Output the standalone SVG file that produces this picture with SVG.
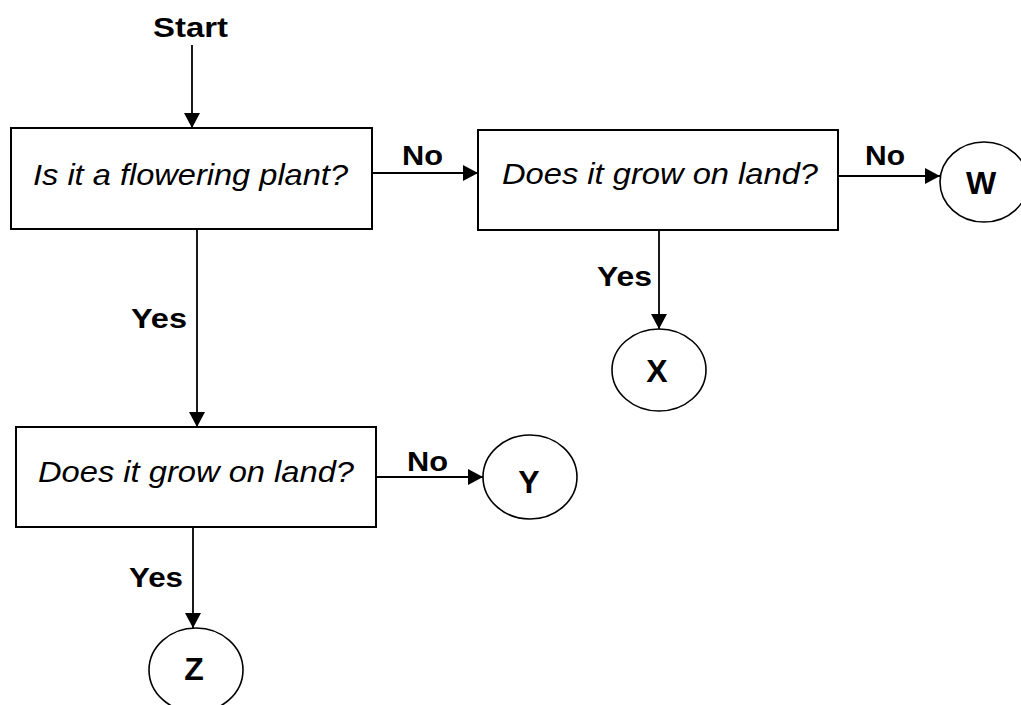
<svg xmlns="http://www.w3.org/2000/svg" width="1021" height="705" viewBox="0 0 1021 705">
<defs>
<marker id="ah" markerWidth="16" markerHeight="16" refX="15" refY="8" orient="auto" markerUnits="userSpaceOnUse">
<path d="M0,0 L15,8 L0,16 Z" fill="#000"/>
</marker>
<style>
.box{fill:#fff;stroke:#000;stroke-width:2}
.term{fill:#fff;stroke:#000;stroke-width:1.6}
.q{font-family:"Liberation Sans",Arial,sans-serif;font-style:italic;font-size:30px;fill:#000}
.lbl{font-family:"Liberation Sans",Arial,sans-serif;font-weight:bold;font-size:28px;fill:#000}
.big{font-family:"Liberation Sans",Arial,sans-serif;font-weight:bold;font-size:32px;fill:#000;text-anchor:middle}
.edge{stroke:#000;stroke-width:1.8;fill:none}
</style>
</defs>
<rect width="1021" height="705" fill="#fff"/>
<g id="connectors">
<line class="edge" x1="192" y1="45" x2="192" y2="128" marker-end="url(#ah)"/>
<line class="edge" x1="372" y1="173" x2="478" y2="173" marker-end="url(#ah)"/>
<line class="edge" x1="197" y1="229" x2="197" y2="427" marker-end="url(#ah)"/>
<line class="edge" x1="659" y1="230" x2="659" y2="329" marker-end="url(#ah)"/>
<line class="edge" x1="838" y1="176" x2="940" y2="176" marker-end="url(#ah)"/>
<line class="edge" x1="376" y1="477" x2="483" y2="477" marker-end="url(#ah)"/>
<line class="edge" x1="193" y1="527" x2="193" y2="628" marker-end="url(#ah)"/>
<text class="lbl" x="153" y="37" textLength="75" lengthAdjust="spacingAndGlyphs">Start</text>
<text class="lbl" x="402" y="165" textLength="41" lengthAdjust="spacingAndGlyphs">No</text>
<text class="lbl" x="865" y="165" textLength="40" lengthAdjust="spacingAndGlyphs">No</text>
<text class="lbl" x="131" y="328" textLength="56" lengthAdjust="spacingAndGlyphs">Yes</text>
<text class="lbl" x="597" y="286" textLength="55" lengthAdjust="spacingAndGlyphs">Yes</text>
<text class="lbl" x="407" y="471" textLength="41" lengthAdjust="spacingAndGlyphs">No</text>
<text class="lbl" x="129" y="587" textLength="54" lengthAdjust="spacingAndGlyphs">Yes</text>
</g>
<g id="q1">
<rect class="box" x="11" y="128" width="361" height="101"/>
<text class="q" x="33" y="185" textLength="315" lengthAdjust="spacingAndGlyphs">Is it a flowering plant?</text>
</g>
<g id="q2">
<rect class="box" x="478" y="130" width="360" height="100"/>
<text class="q" x="502" y="184" textLength="316" lengthAdjust="spacingAndGlyphs">Does it grow on land?</text>
</g>
<g id="q3">
<rect class="box" x="16" y="427" width="360" height="100"/>
<text class="q" x="38" y="482" textLength="316" lengthAdjust="spacingAndGlyphs">Does it grow on land?</text>
</g>
<g id="W">
<ellipse class="term" cx="984" cy="182" rx="44" ry="40"/>
<text class="big" x="981" y="194">W</text>
</g>
<g id="X">
<ellipse class="term" cx="659" cy="370" rx="47" ry="41"/>
<text class="big" x="657" y="382">X</text>
</g>
<g id="Y">
<ellipse class="term" cx="530" cy="477" rx="47" ry="42"/>
<text class="big" x="529" y="493">Y</text>
</g>
<g id="Z">
<ellipse class="term" cx="196" cy="670" rx="47" ry="42"/>
<text class="big" x="194" y="680">Z</text>
</g>
</svg>
